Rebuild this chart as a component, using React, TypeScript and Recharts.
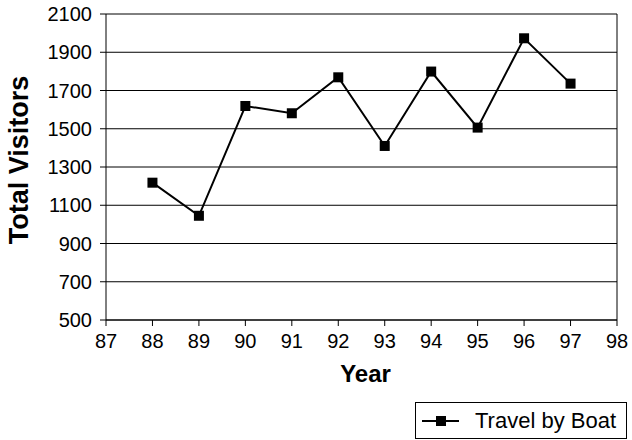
import React from "react";
import {
  LineChart,
  Line,
  XAxis,
  YAxis,
  CartesianGrid,
  ReferenceLine,
} from "recharts";

const years = [88, 89, 90, 91, 92, 93, 94, 95, 96, 97];
const boatVisitors = [1218, 1045, 1619, 1581, 1769, 1410, 1799, 1506, 1973, 1736];
const xTicks = [87, 88, 89, 90, 91, 92, 93, 94, 95, 96, 97, 98];
const yTicks = [500, 700, 900, 1100, 1300, 1500, 1700, 1900, 2100];
const seriesName = "Travel by Boat";

const data = years.map((year, i) => ({ year, visitors: boatVisitors[i] }));

const FONT = "'Liberation Sans', Arial, sans-serif";
const tickStyle = { fontSize: 20, fill: "#000", fontFamily: FONT };

function SquareDot(props: any) {
  const { cx, cy } = props;
  if (cx == null || cy == null) return null;
  return <rect x={cx - 5} y={cy - 5} width={10} height={10} fill="#000" />;
}

// rotated title, baseline on the right so the caps face the page edge
function YTitle({ viewBox }: any) {
  const x = 28;
  const y = viewBox.y + viewBox.height / 2 - 7;
  return (
    <text
      x={x}
      y={y}
      transform={`rotate(-90, ${x}, ${y})`}
      textAnchor="middle"
      fontFamily={FONT}
      fontWeight="bold"
      fontSize={27}
      fill="#000"
    >
      Total Visitors
    </text>
  );
}

function XTitle({ viewBox }: any) {
  const x = viewBox.x + viewBox.width / 2 + 4;
  return (
    <text
      x={x}
      y={382}
      textAnchor="middle"
      fontFamily={FONT}
      fontWeight="bold"
      fontSize={24}
      fill="#000"
    >
      Year
    </text>
  );
}

export default function App() {
  return (
    <div style={{ position: "absolute", left: 0, top: 0, width: 632, height: 440, background: "#fff" }}>
      <LineChart
        width={632}
        height={440}
        data={data}
        margin={{ top: 14, right: 15, left: 0, bottom: 60 }}
      >
        <CartesianGrid horizontal vertical={false} stroke="#000" strokeWidth={1} />
        <XAxis
          dataKey="year"
          type="number"
          domain={[87, 98]}
          ticks={xTicks}
          interval={0}
          height={60}
          tick={tickStyle}
          tickSize={6}
          tickMargin={8}
          axisLine={{ stroke: "#000" }}
          tickLine={{ stroke: "#000" }}
          label={{ content: <XTitle /> }}
        />
        <YAxis
          type="number"
          domain={[500, 2100]}
          ticks={yTicks}
          interval={0}
          width={106}
          tick={tickStyle}
          tickSize={6}
          tickMargin={8}
          axisLine={{ stroke: "#000" }}
          tickLine={{ stroke: "#000" }}
          label={{ content: <YTitle /> }}
        />
        <ReferenceLine x={98} stroke="#000" strokeWidth={1} />
        <Line
          type="linear"
          dataKey="visitors"
          name={seriesName}
          stroke="#000"
          strokeWidth={2}
          dot={<SquareDot />}
          activeDot={false}
          isAnimationActive={false}
        />
      </LineChart>
      <div
        style={{
          position: "absolute",
          left: 415,
          top: 402,
          width: 212,
          height: 37,
          border: "1px solid #000",
          display: "flex",
          alignItems: "center",
          fontFamily: FONT,
          fontSize: 22,
          color: "#000",
          boxSizing: "border-box",
          whiteSpace: "nowrap",
        }}
      >
        <svg width={38} height={12} style={{ marginLeft: 6, marginRight: 15, flexShrink: 0 }}>
          <line x1={0} y1={6} x2={37} y2={6} stroke="#000" strokeWidth={2} />
          <rect x={14} y={1} width={10} height={10} fill="#000" />
        </svg>
        <span>{seriesName}</span>
      </div>
    </div>
  );
}
